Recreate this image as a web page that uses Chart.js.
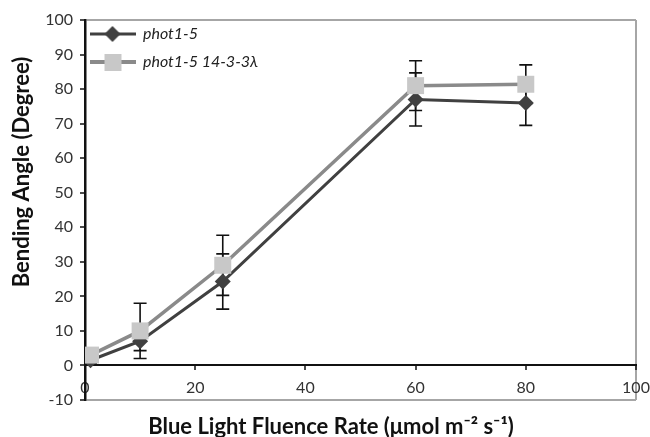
<!DOCTYPE html>
<html><head><meta charset="utf-8">
<script src="https://cdn.jsdelivr.net/npm/chart.js@4/dist/chart.umd.min.js"></script>
<style>html,body{margin:0;padding:0;background:#fff}#wrap{width:650px;height:437px}</style>
</head><body><div id="wrap"><canvas id="c" width="650" height="437"></canvas></div>
<script>
const fluence = [1, 10, 25, 60, 80];
const phot15 = [1.5, 7, 24.3, 77, 76];
const phot15Err = [1, 2.7, 8, 7.7, 6.5];
const phot15L = [3, 10, 29, 81, 81.4];
const phot15LErr = [1, 8, 8.7, 7.2, 5.6];
const seriesNames = ['phot1-5', 'phot1-5 14-3-3\u03bb'];
const xTitle = 'Blue Light Fluence Rate (\u03bcmol m\u207b\u00b2 s\u207b\u00b9)';
const yTitle = 'Bending Angle (Degree)';

const DARK = '#404040', MID = '#8a8a8a', LIGHT = '#c8c8c8', FRAME = '#a6a6a6';

function legendImg(lineColor, lineW, kind) {
  const c = document.createElement('canvas');
  c.width = 46; c.height = 20;
  const g = c.getContext('2d');
  g.strokeStyle = lineColor; g.lineWidth = lineW;
  g.beginPath(); g.moveTo(0, 10); g.lineTo(46, 10); g.stroke();
  if (kind === 'diamond') {
    g.fillStyle = DARK; g.beginPath();
    g.moveTo(23, 2); g.lineTo(31, 10); g.lineTo(23, 18); g.lineTo(15, 10); g.closePath(); g.fill();
  } else {
    g.fillStyle = LIGHT; g.fillRect(15, 2, 17, 17);
  }
  return c;
}

const errorBars = {
  id: 'errorBars',
  beforeDatasetsDraw(chart) {
    const {ctx, scales: {x, y}} = chart;
    ctx.save();
    ctx.strokeStyle = '#111'; ctx.lineWidth = 1.6;
    [[phot15, phot15Err], [phot15L, phot15LErr]].forEach(([vals, errs]) => {
      fluence.forEach((f, i) => {
        const px = x.getPixelForValue(f);
        const t = y.getPixelForValue(vals[i] + errs[i]);
        const b = y.getPixelForValue(vals[i] - errs[i]);
        ctx.beginPath();
        ctx.moveTo(px, t); ctx.lineTo(px, b);
        ctx.moveTo(px - 6.5, t); ctx.lineTo(px + 6.5, t);
        ctx.moveTo(px - 6.5, b); ctx.lineTo(px + 6.5, b);
        ctx.stroke();
      });
    });
    ctx.restore();
  }
};

const titles = {
  id: 'titles',
  afterLayout(chart) {
    if (chart.legend) {
      chart.legend.left = chart.chartArea.left - 7;
      chart.legend.top = chart.chartArea.top - 6;
    }
  },
  afterDraw(chart) {
    const {ctx} = chart;
    ctx.save();
    ctx.fillStyle = '#111';
    ctx.font = 'bold 22px Lato';
    ctx.textAlign = 'center'; ctx.textBaseline = 'middle';
    ctx.fillText(xTitle, 331, 427);
    ctx.translate(22, 172); ctx.rotate(-Math.PI / 2);
    ctx.fillText(yTitle, 0, 0);
    ctx.restore();
  }
};

new Chart(document.getElementById('c'), {
  type: 'line',
  data: {
    datasets: [
      {
        label: seriesNames[0],
        data: fluence.map((f, i) => ({x: f, y: phot15[i]})),
        borderColor: DARK, borderWidth: 3,
        pointStyle: 'rectRot', pointRadius: 8, pointHoverRadius: 8,
        pointBackgroundColor: DARK, pointBorderWidth: 0,
        order: 1
      },
      {
        label: seriesNames[1],
        data: fluence.map((f, i) => ({x: f, y: phot15L[i]})),
        borderColor: MID, borderWidth: 3.5,
        pointStyle: 'rect', pointRadius: 12, pointHoverRadius: 12,
        pointBackgroundColor: LIGHT, pointBorderWidth: 0,
        order: 0
      }
    ]
  },
  options: {
    responsive: false,
    animation: false,
    layout: {padding: {left: 0, top: 20, right: 14, bottom: 37}},
    plugins: {
      tooltip: {enabled: false},
      legend: {
        position: 'chartArea', align: 'start',
        labels: {
          usePointStyle: true, pointStyleWidth: 45, padding: 12,
          font: {family: 'Lato', size: 16, style: 'italic'}, color: '#222',
          generateLabels: (chart) => [
            {text: seriesNames[0], pointStyle: legendImg(DARK, 3, 'diamond'), datasetIndex: 0, hidden: false, lineWidth: 0, fontColor: '#222'},
            {text: seriesNames[1], pointStyle: legendImg(MID, 4, 'square'), datasetIndex: 1, hidden: false, lineWidth: 0, fontColor: '#222'}
          ]
        }
      }
    },
    scales: {
      x: {
        type: 'linear', position: {y: 0}, min: 0, max: 100,
        afterFit: (s) => { s.paddingLeft = 0; s.paddingRight = 0; },
        ticks: {stepSize: 20, padding: 9, color: '#333', font: {family: 'Lato', size: 16}},
        border: {display: true, color: '#111', width: 2},
        grid: {
          drawOnChartArea: true, tickLength: 4, tickColor: '#111', tickWidth: 1.5, lineWidth: 2,
          color: (c) => (c.tick && c.tick.value === 100) ? FRAME : 'rgba(0,0,0,0)'
        }
      },
      y: {
        min: -10, max: 100,
        afterFit: (s) => { s.width = 85; },
        ticks: {stepSize: 10, padding: 7, color: '#333', font: {family: 'Lato', size: 16}},
        border: {display: true, color: '#111', width: 2.5},
        grid: {
          drawOnChartArea: true, tickLength: 5, tickColor: '#111', tickWidth: 1.5, lineWidth: 2,
          color: (c) => (c.tick && (c.tick.value === 100 || c.tick.value === -10)) ? FRAME : 'rgba(0,0,0,0)'
        }
      }
    }
  },
  plugins: [errorBars, titles]
});
</script></body></html>
